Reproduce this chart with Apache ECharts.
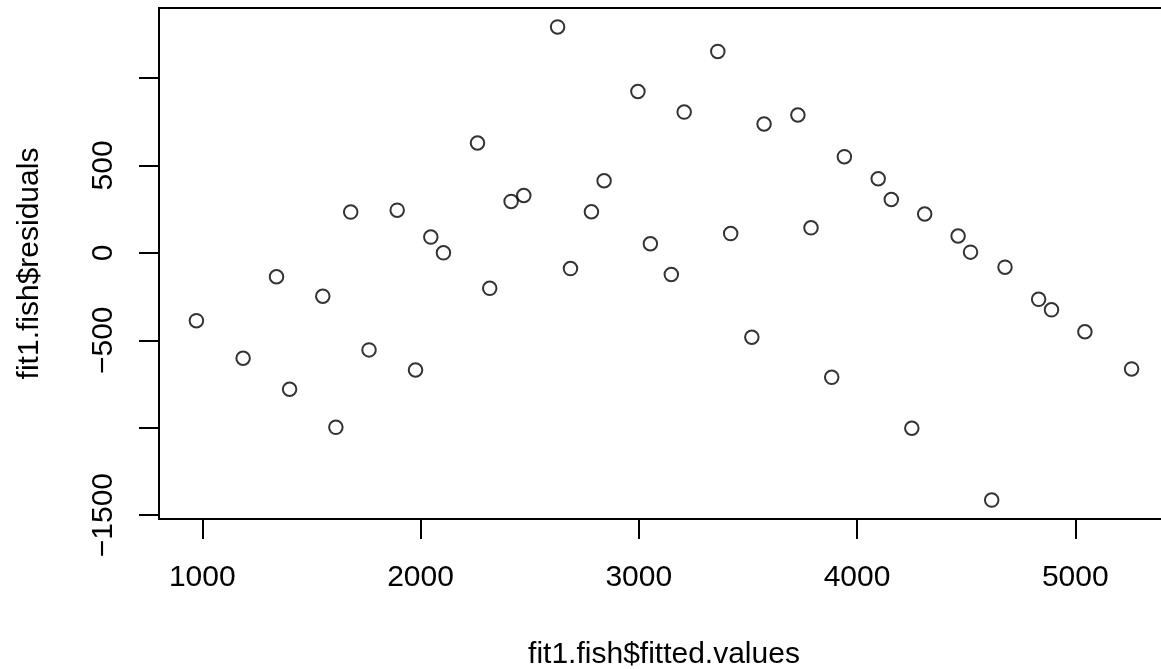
<!DOCTYPE html>
<html>
<head>
<meta charset="utf-8">
<title>fit1.fish residuals vs fitted</title>
<script src="https://cdn.jsdelivr.net/npm/echarts@6/dist/echarts.min.js"></script>
<style>
  html, body { margin: 0; padding: 0; background: #fff; }
  #chart { width: 1161px; height: 669px; }
</style>
</head>
<body>
<div id="chart"></div>
<script>
// values
var fittedValues = [
  973, 1187, 1340, 1400, 1552, 1612, 1680, 1764, 1893, 1977,
  2047, 2105, 2261, 2317, 2415, 2473, 2628, 2687, 2783, 2841,
  2996, 3053, 3149, 3208, 3362, 3421, 3518, 3574, 3729, 3789,
  3884, 3942, 4097, 4157, 4251, 4310, 4463, 4520, 4617, 4678,
  4832, 4891, 5044, 5258
];
var residuals = [
  -388, -603, -137, -780, -248, -998, 233, -555, 244, -670,
  90, 0, 628, -203, 294, 328, 1292, -90, 235, 412,
  923, 52, -124, 805, 1152, 110, -483, 737, 788, 143,
  -712, 550, 424, 305, -1003, 222, 96, 4, -1414, -82,
  -266, -326, -451, -664
];
var xTicks = [1000, 2000, 3000, 4000, 5000];
var yTicks = [-1500, -1000, -500, 0, 500, 1000];
var yTickLabels = [-1500, -500, 0, 500];   // R drops the overlapping ones

var points = fittedValues.map(function (x, i) { return [x, residuals[i]]; });

// R pads each axis range by 4%
function padded(arr) {
  var lo = Math.min.apply(null, arr), hi = Math.max.apply(null, arr);
  var p = (hi - lo) * 0.04;
  return [lo - p, hi + p];
}
var xr = padded(fittedValues);
var yr = padded(residuals);

var font = '"Liberation Sans", Arial, Helvetica, sans-serif';

var chart = echarts.init(document.getElementById('chart'));
chart.setOption({
  animation: false,
  backgroundColor: '#fff',
  // box runs past the right edge of the picture, like the original
  grid: {
    left: 159, width: 1010, top: 8, bottom: 150,
    outerBoundsMode: 'none',
    show: true, borderColor: '#000', borderWidth: 2,
    containLabel: false
  },
  xAxis: {
    type: 'value',
    min: xr[0], max: xr[1],
    name: 'fit1.fish$fitted.values',
    nameLocation: 'middle',
    nameGap: 121,
    nameTextStyle: { fontFamily: font, fontSize: 30, color: '#000' },
    axisLine: { show: false, onZero: false },
    splitLine: { show: false },
    axisTick: {
      show: true, inside: false, length: 20,
      customValues: xTicks,
      lineStyle: { color: '#000', width: 2 }
    },
    axisLabel: {
      customValues: xTicks,
      margin: 44,
      fontFamily: font, fontSize: 30, color: '#000',
      formatter: function (v) { return String(v); }
    }
  },
  yAxis: {
    type: 'value',
    min: yr[0], max: yr[1],
    name: 'fit1.fish$residuals',
    nameLocation: 'middle',
    nameRotate: 90,
    nameGap: 114,
    nameTextStyle: { fontFamily: font, fontSize: 30, color: '#000' },
    axisLine: { show: false, onZero: false },
    splitLine: { show: false },
    axisTick: {
      show: true, inside: false, length: 20,
      customValues: yTicks,
      lineStyle: { color: '#000', width: 2 }
    },
    axisLabel: {
      customValues: yTickLabels,
      rotate: 90,
      margin: 40,
      fontFamily: font, fontSize: 30, color: '#000',
      formatter: function (v) { return String(v).replace('-', '\u2212'); }
    }
  },
  series: [{
    type: 'scatter',
    data: points,
    symbol: 'circle',
    symbolSize: 13.5,
    itemStyle: { color: 'rgba(0,0,0,0)', borderColor: '#000', borderWidth: 2 }
  }]
});
</script>
</body>
</html>
